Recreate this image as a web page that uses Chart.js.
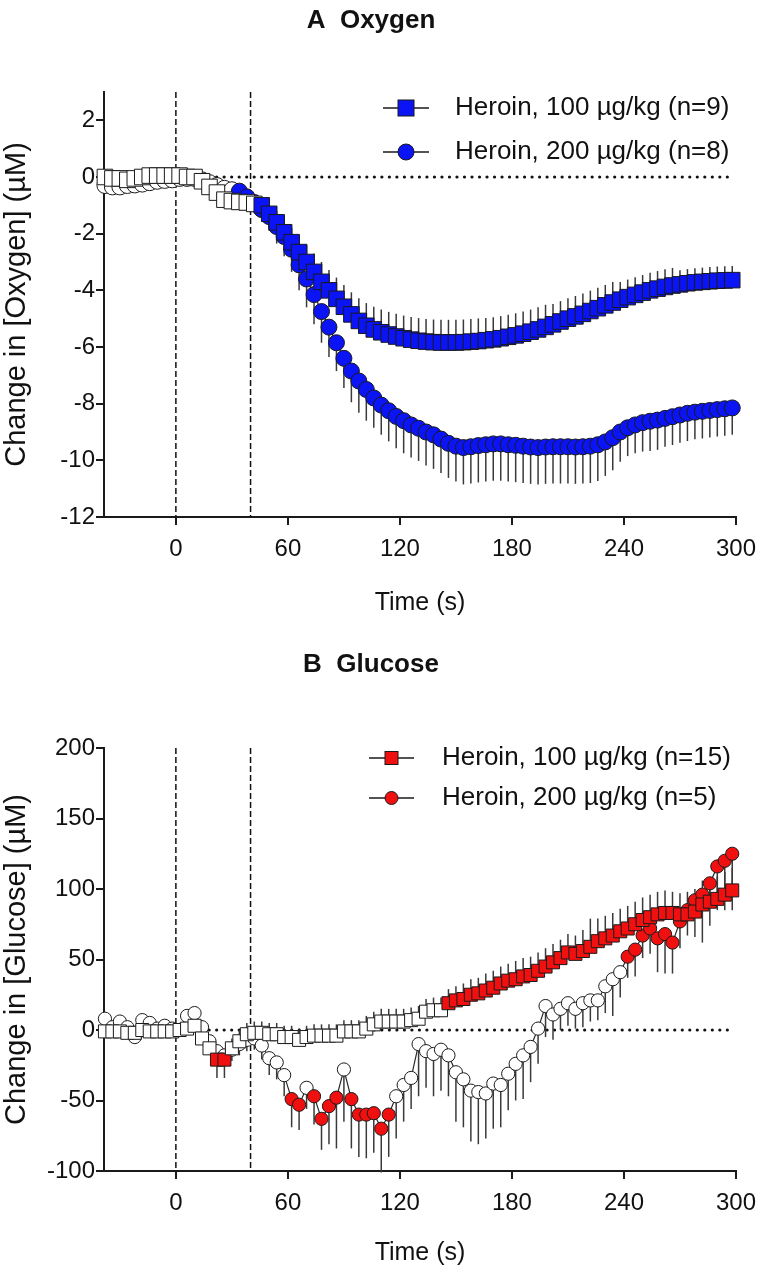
<!DOCTYPE html>
<html>
<head>
<meta charset="utf-8">
<script src="https://cdn.jsdelivr.net/npm/chart.js@4"></script>
<style>
  html, body { margin: 0; padding: 0; background: #ffffff; }
  #wrap { position: relative; width: 766px; height: 1273px; overflow: hidden; }
  #ca { position: absolute; left: 0; top: 0; }
  #cb { position: absolute; left: 0; top: 640px; }
</style>
</head>
<body>
<div id="wrap">
  <canvas id="ca" width="766" height="640"></canvas>
  <canvas id="cb" width="766" height="633"></canvas>
</div>
<script>
// ---------------- DATA ----------------
const times = [-38,-34,-30,-26,-22,-18,-14,-10,-6,-2,2,6,10,14,18,22,26,30,34,38,
  42,46,50,54,58,62,66,70,74,78,82,86,90,94,98,102,106,110,114,118,
  122,126,130,134,138,142,146,150,154,158,162,166,170,174,178,182,186,190,194,198,
  202,206,210,214,218,222,226,230,234,238,242,246,250,254,258,262,266,270,274,278,
  282,286,290,294,298];

const xTickValues = [0, 60, 120, 180, 240, 300];
const oxyYTicks = [-12, -10, -8, -6, -4, -2, 0, 2];
const gluYTicks = [-100, -50, 0, 50, 100, 150, 200];
const injectionLines = [0, 40];
const baselineValue = 0;

const oxyLabels = ['Heroin, 100 µg/kg (n=9)', 'Heroin, 200 µg/kg (n=8)'];
const gluLabels = ['Heroin, 100 µg/kg (n=15)', 'Heroin, 200 µg/kg (n=5)'];

// Oxygen, 100 ug/kg (mean, SEM drawn upward)
const oxy100 = [0,-0.05,-0.05,-0.1,-0.05,0,0.05,0.05,0.05,0.05,0.05,0,0,-0.15,-0.35,-0.55,-0.8,-0.85,-0.88,-0.9,
  -0.95,-1.0,-1.3,-1.6,-1.95,-2.3,-2.65,-3.0,-3.35,-3.7,-4.0,-4.3,-4.58,-4.85,-5.08,-5.25,-5.38,-5.48,-5.56,-5.63,
  -5.69,-5.74,-5.78,-5.81,-5.83,-5.84,-5.84,-5.84,-5.83,-5.81,-5.79,-5.76,-5.73,-5.69,-5.64,-5.59,-5.53,-5.46,-5.38,-5.29,
  -5.2,-5.1,-5.0,-4.92,-4.83,-4.73,-4.63,-4.53,-4.43,-4.33,-4.24,-4.16,-4.08,-4.0,-3.94,-3.88,-3.83,-3.79,-3.75,-3.72,
  -3.7,-3.68,-3.66,-3.65,-3.64];
const oxy100Err = [0.1,0.1,0.1,0.1,0.1,0.1,0.1,0.1,0.1,0.1,0.1,0.1,0.1,0.15,0.2,0.2,0.25,0.25,0.25,0.25,
  0.3,0.3,0.35,0.4,0.45,0.5,0.55,0.6,0.65,0.7,0.72,0.75,0.77,0.78,0.8,0.8,0.8,0.8,0.8,0.8,
  0.8,0.8,0.8,0.8,0.8,0.8,0.8,0.8,0.8,0.8,0.8,0.78,0.78,0.78,0.78,0.78,0.78,0.78,0.78,0.78,
  0.72,0.72,0.72,0.72,0.72,0.72,0.72,0.72,0.72,0.62,0.62,0.62,0.62,0.62,0.62,0.62,0.62,0.5,0.5,0.5,
  0.5,0.5,0.5,0.5,0.5];
const oxy100Sig = [0,0,0,0,0,0,0,0,0,0,0,0,0,0,0,0,0,0,0,0,
  0,1,1,1,1,1,1,1,1,1,1,1,1,1,1,1,1,1,1,1,
  1,1,1,1,1,1,1,1,1,1,1,1,1,1,1,1,1,1,1,1,
  1,1,1,1,1,1,1,1,1,1,1,1,1,1,1,1,1,1,1,1,
  1,1,1,1,1];

// Oxygen, 200 ug/kg (mean, SEM drawn downward)
const oxy200 = [-0.3,-0.35,-0.35,-0.3,-0.28,-0.25,-0.2,-0.15,-0.12,-0.1,-0.05,-0.05,-0.05,-0.1,-0.2,-0.3,-0.4,-0.45,-0.5,-0.7,
  -0.9,-1.15,-1.4,-1.75,-2.1,-2.55,-3.1,-3.6,-4.15,-4.75,-5.3,-5.85,-6.4,-6.85,-7.2,-7.5,-7.8,-8.05,-8.25,-8.45,
  -8.6,-8.75,-8.87,-9.0,-9.1,-9.25,-9.4,-9.5,-9.55,-9.52,-9.48,-9.45,-9.42,-9.42,-9.45,-9.47,-9.5,-9.53,-9.55,-9.53,
  -9.52,-9.52,-9.52,-9.53,-9.52,-9.5,-9.45,-9.35,-9.2,-9.0,-8.85,-8.75,-8.67,-8.62,-8.58,-8.52,-8.46,-8.4,-8.34,-8.3,
  -8.27,-8.24,-8.21,-8.18,-8.15];
const oxy200Err = [-0.1,-0.1,-0.1,-0.1,-0.1,-0.1,-0.1,-0.1,-0.1,-0.1,-0.1,-0.1,-0.1,-0.1,-0.1,-0.1,-0.1,-0.1,-0.2,-0.25,
  -0.3,-0.4,-0.5,-0.6,-0.7,-0.8,-0.9,-1.0,-1.05,-1.1,-1.05,-1.0,-1.05,-1.1,-1.12,-1.1,-1.05,-1.05,-1.08,-1.12,
  -1.15,-1.15,-1.15,-1.18,-1.2,-1.2,-1.22,-1.25,-1.3,-1.3,-1.3,-1.3,-1.3,-1.3,-1.3,-1.3,-1.3,-1.3,-1.3,-1.3,
  -1.3,-1.3,-1.3,-1.3,-1.3,-1.3,-1.28,-1.2,-1.15,-1.05,-1.0,-1.0,-1.02,-1.05,-1.05,-1.0,-1.0,-0.98,-0.98,-0.96,
  -0.96,-0.95,-0.95,-0.95,-0.95];
const oxy200Sig = [0,0,0,0,0,0,0,0,0,0,0,0,0,0,0,0,0,0,1,1,
  1,1,1,1,1,1,1,1,1,1,1,1,1,1,1,1,1,1,1,1,
  1,1,1,1,1,1,1,1,1,1,1,1,1,1,1,1,1,1,1,1,
  1,1,1,1,1,1,1,1,1,1,1,1,1,1,1,1,1,1,1,1,
  1,1,1,1,1];

// Glucose, 100 ug/kg (mean, signed SEM)
const glu100 = [-1,-1,-1,-2,-2,0,-1,-1,-1,-1,0,1,3,-6,-13,-21,-21,-13,-8,-3,
  -2,-2,-3,-3,-5,-5,-7,-5,-4,-4,-4,-4,-1,-1,-1,1,4,6,6,6,
  6,7,8,13,14,14,19,21,22,25,26,28,30,33,35,36,38,39,42,45,
  48,51,55,54,56,59,63,65,67,70,72,75,78,80,82,83,83,82,82,84,
  89,91,93,96,99];
const glu100Err = [5,5,5,5,5,5,5,5,5,5,5,5,5,6,7,-13,-13,7,8,8,
  8,8,8,8,8,8,8,8,8,8,8,8,8,8,8,9,9,9,9,9,
  9,9,9,9,9,9,10,10,11,11,11,12,12,12,12,13,13,13,13,13,
  13,13,13,13,15,20,16,16,16,16,16,16,16,16,16,16,15,15,16,16,
  17,17,16,16,16];
const glu100Sig = [0,0,0,0,0,0,0,0,0,0,0,0,0,0,0,1,1,0,0,0,
  0,0,0,0,0,0,0,0,0,0,0,0,0,0,0,0,0,0,0,0,
  0,0,0,0,0,0,1,1,1,1,1,1,1,1,1,1,1,1,1,1,
  1,1,1,1,1,1,1,1,1,1,1,1,1,1,1,1,1,1,1,1,
  1,1,1,1,1];

// Glucose, 200 ug/kg (mean, SEM drawn downward)
const glu200 = [8,2,6,2,-5,7,5,1,3,1,0,10,12,2,-8,-15,-18,-14,-10,-7,
  -6,-11,-20,-23,-32,-49,-53,-41,-47,-63,-54,-48,-28,-49,-60,-60,-59,-70,-60,-47,
  -39,-34,-10,-15,-17,-14,-18,-30,-35,-43,-44,-45,-38,-39,-31,-24,-18,-12,1,17,
  11,15,19,15,19,21,21,31,36,41,52,57,67,72,65,68,62,77,85,92,
  96,104,116,120,125];
const glu200Err = [-5,-4,-5,-4,-5,-5,-4,-4,-5,-4,-4,-5,-5,-6,-6,-7,-8,-8,-8,-8,
  -8,-10,-12,-12,-15,-20,-18,-15,-20,-22,-27,-36,-37,-35,-30,-31,-28,-31,-30,-30,
  -26,-22,-37,-26,-30,-29,-29,-35,-34,-36,-37,-32,-32,-30,-26,-26,-31,-25,-25,-22,
  -18,-15,-16,-14,-17,-15,-14,-19,-26,-18,-15,-19,-16,-18,-24,-28,-22,-19,-18,-26,
  -34,-30,-31,-35,-40];
const glu200Sig = [0,0,0,0,0,0,0,0,0,0,0,0,0,0,0,0,0,0,0,0,
  0,0,0,0,0,1,1,0,1,1,1,1,0,1,1,1,1,1,1,0,
  0,0,0,0,0,0,0,0,0,0,0,0,0,0,0,0,0,0,0,0,
  0,0,0,0,0,0,0,0,0,0,1,1,1,1,1,1,1,1,1,1,
  1,1,1,1,1];

// ---------------- STYLE ----------------
const BLUE = '#0a14f5';
const RED = '#f01010';
const INK = '#1a1a1a';
const FONT = "'Liberation Sans', Arial, Helvetica, sans-serif";
Chart.defaults.font.family = FONT;
Chart.defaults.color = '#111';

const pts = (vals) => times.map((t, i) => ({ x: t, y: vals[i] }));

const refAndErrors = {
  id: 'refAndErrors',
  beforeDatasetsDraw(chart, args, o) {
    const { ctx, chartArea: a, scales: { x, y } } = chart;
    ctx.save();
    ctx.strokeStyle = '#111';
    ctx.lineWidth = 1.5;
    ctx.setLineDash([6, 3]);
    o.vlines.forEach(v => {
      const px = x.getPixelForValue(v);
      ctx.beginPath(); ctx.moveTo(px, a.top); ctx.lineTo(px, a.bottom); ctx.stroke();
    });
    ctx.setLineDash([0.01, 7.5]);
    ctx.lineCap = 'round';
    ctx.lineWidth = 3.2;
    const py = y.getPixelForValue(o.hline);
    ctx.beginPath();
    ctx.moveTo(x.getPixelForValue(o.hFrom), py);
    ctx.lineTo(x.getPixelForValue(o.hTo), py);
    ctx.stroke();
    ctx.setLineDash([]);
    ctx.lineCap = 'butt';
    ctx.strokeStyle = '#3a3a3a';
    ctx.lineWidth = 1.5;
    chart.data.datasets.forEach(ds => {
      ds.data.forEach((p, i) => {
        const e = ds.errs[i];
        const px = x.getPixelForValue(p.x);
        ctx.beginPath();
        ctx.moveTo(px, y.getPixelForValue(p.y));
        ctx.lineTo(px, y.getPixelForValue(p.y + e));
        ctx.stroke();
      });
    });
    ctx.restore();
  }
};

const keyBox = {
  id: 'keyBox',
  afterDraw(chart, args, o) {
    const ctx = chart.ctx;
    ctx.save();
    chart.data.datasets.forEach((ds, k) => {
      const yy = o.rows[k];
      ctx.strokeStyle = INK; ctx.lineWidth = 1.3;
      ctx.beginPath(); ctx.moveTo(o.x0, yy); ctx.lineTo(o.x1, yy); ctx.stroke();
      const cx = (o.x0 + o.x1) / 2;
      ctx.fillStyle = o.color; ctx.lineWidth = 1;
      if (ds.pointStyle === 'rect') {
        ctx.fillRect(cx - o.size / 2, yy - o.size / 2, o.size, o.size);
        ctx.strokeRect(cx - o.size / 2, yy - o.size / 2, o.size, o.size);
      } else {
        ctx.beginPath(); ctx.arc(cx, yy, o.size / 2, 0, Math.PI * 2); ctx.fill(); ctx.stroke();
      }
      ctx.fillStyle = '#111';
      ctx.font = o.fontSize + 'px ' + FONT;
      ctx.textBaseline = 'middle';
      ctx.textAlign = 'left';
      ctx.fillText(ds.label, o.tx, yy);
    });
    ctx.restore();
  }
};

function makeChart(el, cfg) {
  const mkDs = (label, vals, errs, sig, style, radius, color) => ({
    label, data: pts(vals), errs,
    pointStyle: style, pointRadius: radius,
    pointBackgroundColor: sig.map(s => s ? color : '#ffffff'),
    pointBorderColor: INK, pointBorderWidth: 1,
    borderColor: '#2a2a2a', borderWidth: 1.2, showLine: true, fill: false, tension: 0, clip: false
  });
  return new Chart(el, {
    type: 'line',
    data: {
      datasets: [
        mkDs(cfg.labels[0], cfg.s1, cfg.e1, cfg.sig1, 'rect', cfg.rectR, cfg.color),
        mkDs(cfg.labels[1], cfg.s2, cfg.e2, cfg.sig2, 'circle', cfg.circR, cfg.color)
      ]
    },
    options: {
      responsive: false, animation: false, devicePixelRatio: 1,
      layout: { padding: { left: 0, right: 24, top: 0, bottom: 0 } },
      plugins: {
        legend: { display: false }, tooltip: { enabled: false },
        title: { display: true, text: cfg.title, color: '#111',
          font: { size: 26, weight: 'bold', lineHeight: 1.2 },
          padding: { top: cfg.titlePadTop, bottom: cfg.titlePadBottom } },
        refAndErrors: { vlines: injectionLines, hline: baselineValue, hFrom: -38.5, hTo: times[times.length - 1] },
        keyBox: cfg.key
      },
      scales: {
        x: {
          type: 'linear', min: -38.5, max: 300,
          afterBuildTicks: s => { s.ticks = xTickValues.map(v => ({ value: v })); },
          afterFit: s => { s.height = cfg.xHeight; },
          grid: { display: true, drawOnChartArea: false, drawTicks: true, tickLength: 8, color: INK, lineWidth: 2 },
          border: { display: true, color: INK, width: 2 },
          ticks: { font: { size: 24 }, color: '#111', padding: 10, maxRotation: 0, autoSkip: false },
          title: { display: true, text: 'Time (s)', color: '#111', font: { size: 25, lineHeight: 1.2 },
            padding: { top: 0, bottom: cfg.xTitlePad } }
        },
        y: {
          type: 'linear', min: cfg.ymin, max: cfg.ymax,
          afterBuildTicks: s => { s.ticks = cfg.yTicks.map(v => ({ value: v })); },
          afterFit: s => { s.width = 104; },
          grid: { display: true, drawOnChartArea: false, drawTicks: true, tickLength: 8, color: INK, lineWidth: 2 },
          border: { display: true, color: INK, width: 2 },
          ticks: { font: { size: 24 }, color: '#111', padding: 1, autoSkip: false },
          title: { display: true, text: cfg.yTitle, color: '#111', font: { size: 29, lineHeight: 1.2 },
            padding: { top: 0, bottom: 0 } }
        }
      }
    },
    plugins: [refAndErrors, keyBox]
  });
}

makeChart(document.getElementById('ca'), {
  title: 'A  Oxygen', titlePadTop: 5, titlePadBottom: 55.8,
  labels: oxyLabels, color: BLUE,
  s1: oxy100, e1: oxy100Err, sig1: oxy100Sig,
  s2: oxy200, e2: oxy200Err, sig2: oxy200Sig,
  rectR: 11, circR: 8,
  ymin: -12, ymax: 3, yTicks: oxyYTicks,
  yTitle: 'Change in [Oxygen] (µM)',
  xHeight: 123, xTitlePad: 22,
  key: { x0: 383, x1: 429, rows: [108, 152], size: 16, tx: 455, fontSize: 26, color: BLUE }
});

makeChart(document.getElementById('cb'), {
  title: 'B  Glucose', titlePadTop: 9, titlePadBottom: 67.8,
  labels: gluLabels, color: RED,
  s1: glu100, e1: glu100Err, sig1: glu100Sig,
  s2: glu200, e2: glu200Err, sig2: glu200Sig,
  rectR: 9.2, circR: 6.6,
  ymin: -100, ymax: 200, yTicks: gluYTicks,
  yTitle: 'Change in [Glucose] (µM)',
  xHeight: 102, xTitlePad: 5,
  key: { x0: 369, x1: 414, rows: [118, 158], size: 13, tx: 442, fontSize: 26, color: RED }
});
</script>
</body>
</html>
